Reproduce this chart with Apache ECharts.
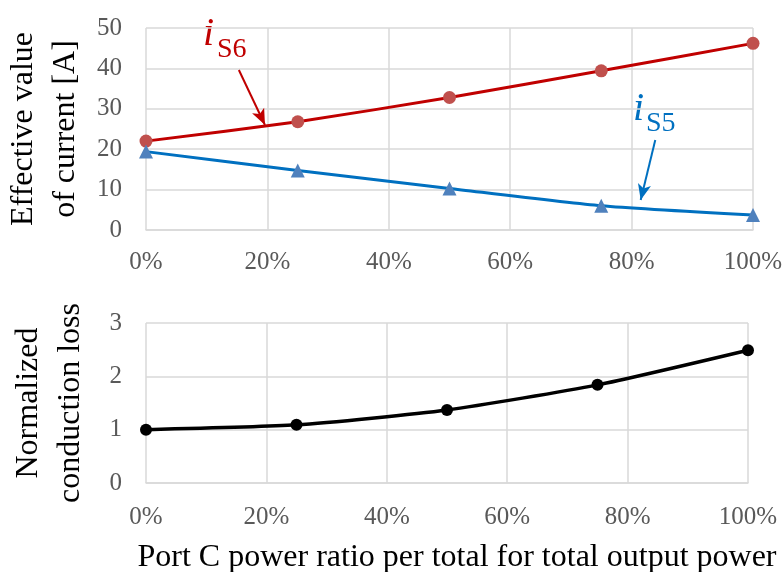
<!DOCTYPE html>
<html>
<head>
<meta charset="utf-8">
<script src="https://cdn.jsdelivr.net/npm/echarts@6/dist/echarts.min.js"></script>
<style>html,body{margin:0;padding:0;background:#fff;}#c{width:784px;height:572px;}</style>
</head>
<body>
<div id="c"></div>
<script>
// ---- data ----
var ratios = [0, 25, 50, 75, 100];           // Port C power ratio [%]
var iS6 = [22.0, 26.8, 32.8, 39.4, 46.2];     // effective current iS6 [A]
var iS5 = [19.4, 14.7, 10.3, 6.0, 3.7];       // effective current iS5 [A]
var loss = [1.0, 1.09, 1.37, 1.84, 2.49];     // normalized conduction loss
var xTicks = [0, 20, 40, 60, 80, 100];
// arrow annotations in data coordinates [x%, value]
var arrowS6 = [[15.3, 39.6], [19.6, 26.0]];
var arrowS5 = [[83.9, 22.3], [81.5, 7.4]];

function pairs(xs, ys) { return xs.map(function (x, i) { return [x, ys[i]]; }); }

var FONT = '"Liberation Serif", "Times New Roman", serif';
var GRID = '#d9d9d9';
var TICK = '#595959';

function xAxisCfg(idx, margin, extra) {
  var a = {
    type: 'value', gridIndex: idx, min: xTicks[0], max: xTicks[xTicks.length - 1], interval: 20,
    axisLabel: { formatter: '{value}%', fontSize: 25, color: TICK, fontFamily: FONT, margin: margin },
    axisTick: { show: false },
    axisLine: { show: true, lineStyle: { color: GRID, width: 1.5 } },
    splitLine: { show: true, lineStyle: { color: GRID, width: 1.5 } }
  };
  for (var k in extra) a[k] = extra[k];
  return a;
}
function yAxisCfg(idx, max, interval, name) {
  return {
    type: 'value', gridIndex: idx, min: 0, max: max, interval: interval,
    name: name, nameLocation: 'middle', nameRotate: 90, nameGap: 54,
    nameTextStyle: { fontSize: 32, lineHeight: 42, color: '#000', fontFamily: FONT },
    axisLabel: { fontSize: 25, color: TICK, fontFamily: FONT, margin: 24 },
    axisTick: { show: false },
    axisLine: { show: false },
    splitLine: { show: true, lineStyle: { color: GRID, width: 1.5 } }
  };
}

function arrowLine(pts, color) {
  return {
    silent: true, symbol: ['none', 'arrow'], symbolSize: [10, 16],
    lineStyle: { color: color, width: 2, type: 'solid' }, label: { show: false },
    emphasis: { disabled: true },
    data: [[{ coord: pts[0], symbol: 'none' }, { coord: pts[1], symbol: 'arrow' }]]
  };
}
function txt(left, top, text, size, italic, color) {
  return {
    type: 'text', left: left, top: top, silent: true,
    style: { text: text, fontSize: size, fontStyle: italic ? 'italic' : 'normal', fontFamily: FONT, fill: color }
  };
}

var chart = echarts.init(document.getElementById('c'), null, { renderer: 'canvas' });
chart.setOption({
  animation: false,
  backgroundColor: '#fff',
  grid: [
    { left: 146, right: 31, top: 28, height: 202, outerBoundsMode: 'none', containLabel: false },
    { left: 146, right: 36, top: 323, height: 160, outerBoundsMode: 'none', containLabel: false }
  ],
  xAxis: [
    xAxisCfg(0, 20, {}),
    xAxisCfg(1, 22, {
      name: 'Port C power ratio per total for total output power',
      nameLocation: 'middle', nameGap: 59,
      nameTextStyle: { fontSize: 32, color: '#000', fontFamily: FONT, padding: [0, 0, 0, 20] }
    })
  ],
  yAxis: [
    yAxisCfg(0, 50, 10, 'Effective value\nof current [A]'),
    yAxisCfg(1, 3, 1, 'Normalized\nconduction loss')
  ],
  series: [
    {
      name: 'iS6', type: 'line', xAxisIndex: 0, yAxisIndex: 0, data: pairs(ratios, iS6),
      smooth: 0.2, symbol: 'circle', symbolSize: 13,
      itemStyle: { color: '#c0504d' }, lineStyle: { color: '#c00000', width: 3 },
      markLine: arrowLine(arrowS6, '#c00000')
    },
    {
      name: 'iS5', type: 'line', xAxisIndex: 0, yAxisIndex: 0, data: pairs(ratios, iS5),
      smooth: 0.2, symbol: 'triangle', symbolSize: 14,
      itemStyle: { color: '#4f81bd' }, lineStyle: { color: '#0070c0', width: 3 },
      markLine: arrowLine(arrowS5, '#0070c0')
    },
    {
      name: 'loss', type: 'line', xAxisIndex: 1, yAxisIndex: 1, data: pairs(ratios, loss),
      smooth: 0.2, symbol: 'circle', symbolSize: 12,
      itemStyle: { color: '#000' }, lineStyle: { color: '#000', width: 3.5 }
    }
  ],
  graphic: [
    txt(203, 14, 'i', 40, true, '#c00000'),
    txt(217, 36, 'S6', 28, false, '#c00000'),
    txt(633, 89, 'i', 40, true, '#0070c0'),
    txt(646, 110, 'S5', 28, false, '#0070c0')
  ]
});
</script>
</body>
</html>
